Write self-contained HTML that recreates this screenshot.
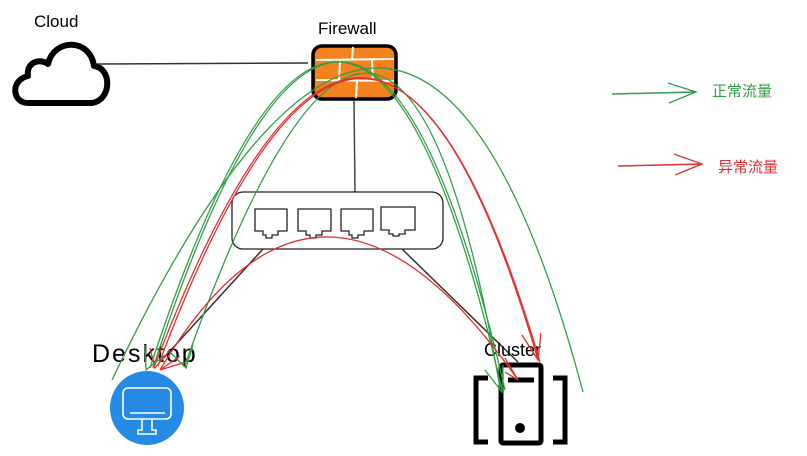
<!DOCTYPE html>
<html><head><meta charset="utf-8"><style>
html,body{margin:0;padding:0;background:#fff;}
svg{display:block}
text{font-family:"Liberation Sans","Noto Sans CJK SC",sans-serif;}
</style></head><body>
<svg width="807" height="456" viewBox="0 0 807 456" xmlns="http://www.w3.org/2000/svg">
<!-- cloud -->
<path d="M28 103 C12 103 10 80 28 76 C26 62 40 58 48 64 C54 38 90 38 94 66 C112 68 112 100 92 103 Z" fill="none" stroke="#000" stroke-width="6" stroke-linejoin="round"/>
<text x="34" y="27" font-size="17">Cloud</text>
<!-- cloud-firewall -->
<line x1="97" y1="64" x2="308" y2="63" stroke="#333" stroke-width="1.5"/>
<!-- firewall -->
<text x="318" y="34" font-size="17">Firewall</text>
<rect x="313" y="46" width="83" height="53" rx="9" fill="#f5821f" stroke="#000" stroke-width="3.5"/>
<g stroke="#fff" stroke-width="2">
<line x1="316" y1="60" x2="394" y2="59"/><line x1="316" y1="80" x2="394" y2="81"/>
<line x1="353" y1="47" x2="352" y2="60"/><line x1="340" y1="60" x2="339" y2="80"/><line x1="372" y1="60" x2="373" y2="80"/><line x1="357" y1="81" x2="356" y2="98"/>
</g>
<line x1="354" y1="100" x2="355" y2="192" stroke="#444" stroke-width="1.5"/>
<!-- switch -->
<rect x="232" y="192" width="211" height="57" rx="11" fill="none" stroke="#222" stroke-width="1.3"/>
<g fill="none" stroke="#222" stroke-width="1.3">
<path d="M255 209 h32 v22 h-9 v4 h-6 v3 h-6 v-3 h-3 v-4 h-8 z"/>
<path d="M298 209 h33 v22 h-9 v4 h-6 v3 h-6 v-3 h-4 v-4 h-8 z"/>
<path d="M341 209 h32 v22 h-9 v4 h-6 v3 h-6 v-3 h-3 v-4 h-8 z"/>
<path d="M381 207 h34 v23 h-10 v4 h-6 v2 h-6 v-2 h-4 v-4 h-8 z"/>
</g>
<line x1="263" y1="249" x2="160" y2="362" stroke="#333" stroke-width="1.5"/>
<line x1="402" y1="249" x2="518" y2="362" stroke="#333" stroke-width="1.5"/>
<!-- desktop -->
<circle cx="147" cy="408" r="37" fill="#2589e6"/>
<g fill="none" stroke="#fff" stroke-width="1.6">
<rect x="123" y="388" width="48" height="31" rx="5"/>
<line x1="130" y1="413" x2="165" y2="413"/>
<path d="M142 419 v11 h-4 v4 h18 v-4 h-4 v-11"/>
</g>
<text x="92" y="362" font-size="25" letter-spacing="2">Desktop</text>
<!-- cluster -->
<g fill="none" stroke="#000" stroke-width="5">
<rect x="501" y="365" width="40" height="78" rx="2"/>
<path d="M488 378 h-12 v64 h12"/><path d="M553 378 h12 v64 h-12"/>
</g>
<line x1="508" y1="380" x2="534" y2="380" stroke="#000" stroke-width="5"/>
<circle cx="520" cy="428" r="5" fill="#000"/>
<text x="484" y="356" font-size="18">Cluster</text>
<!-- curves -->
<g fill="none" stroke-width="1.3">
<path d="M112 380 Q412 -250 583 392" stroke="#2f9e44"/>
<path d="M150 368 Q354 -255 502 390" stroke="#2f9e44"/>
<path d="M153 368 Q356 -255 505 390" stroke="#2f9e44"/>
<path d="M185 365 Q395 -230 500 388" stroke="#2f9e44"/>
<path d="M155 365 Q373 -207 538 360" stroke="#e03131"/>
<path d="M158 366 Q373 -207 540 362" stroke="#e03131"/>
<path d="M160 370 Q321 99 518 380" stroke="#e03131"/>
<!-- arrowheads -->
<path d="M145 345 L146 370 L165 355" stroke="#2f9e44"/>
<path d="M170 352 L186 368 L193 345" stroke="#2f9e44"/>
<path d="M150 348 L155 368 L170 350" stroke="#e03131"/>
<path d="M160 370 L180 356 M160 370 L186 362" stroke="#e03131"/>
<path d="M485 370 L502 392 L503 365" stroke="#2f9e44"/>
<path d="M522 335 L538 360 L541 333" stroke="#e03131"/>
<path d="M518 380 L505 358 M518 380 L505 372" stroke="#e03131"/>
</g>
<!-- legend -->
<line x1="612" y1="94" x2="696" y2="92" stroke="#2f9e44" stroke-width="1.5"/>
<path d="M668 83 L696 92 L669 103" fill="none" stroke="#2f9e44" stroke-width="1.3"/>
<text x="712" y="96" font-size="15" fill="#2f9e44">正常流量</text>
<line x1="618" y1="166" x2="702" y2="164" stroke="#e03131" stroke-width="1.5"/>
<path d="M674 154 L702 164 L675 175" fill="none" stroke="#e03131" stroke-width="1.3"/>
<text x="718" y="172" font-size="15" fill="#e03131">异常流量</text>
</svg>
</body></html>
